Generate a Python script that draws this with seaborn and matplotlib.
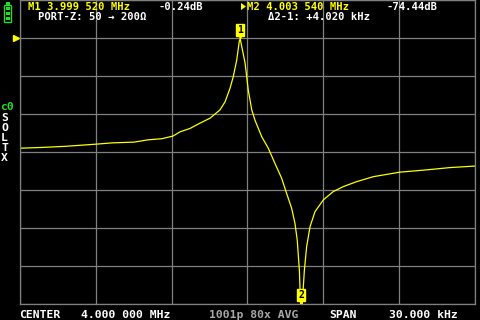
import matplotlib
matplotlib.use("Agg")
import matplotlib.pyplot as plt
import matplotlib.transforms as mtrans
from matplotlib.patches import Rectangle, Polygon
import pandas as pd
import seaborn as sns

# ── data (offset from 4.000 000 MHz centre, kHz / S21 dB) ──
offset_khz = [-15.0, -13.55, -11.97, -10.91, -9.86, -8.93, -7.48, -6.56, -5.64, -4.91,
              -4.45, -3.79, -3.13, -2.47, -1.81, -1.48, -1.15, -0.94, -0.71, -0.54,
              -0.48, -0.16, 0.05, 0.28, 0.49, 0.94, 1.37, 1.81, 2.25, 2.58,
              2.91, 3.13, 3.28, 3.42, 3.54, 3.75, 3.90, 4.12, 4.45, 5.00,
              5.66, 6.32, 7.20, 8.29, 10.05, 11.82, 13.35, 15.0]
s21_db = [-29.0, -28.8, -28.5, -28.2, -27.9, -27.6, -27.4, -26.8, -26.5, -25.8,
          -24.7, -23.8, -22.4, -21.1, -18.9, -16.8, -13.2, -10.2, -5.8, -0.8,
          -0.24, -6.6, -13.7, -18.9, -21.6, -26.0, -29.0, -33.0, -36.9, -40.9,
          -44.8, -48.8, -53.2, -61.1, -74.44, -61.1, -54.9, -49.7, -45.7, -42.6,
          -40.4, -39.1, -37.8, -36.5, -35.3, -34.7, -34.1, -33.7]

marker_names = ["1", "2"]
marker_khz = [-0.48, 3.54]
marker_db = [-0.24, -74.44]

header_left = ["M1 3.999 520 MHz", "-0.24dB", "PORT-Z: 50 \u2192 200\u03a9"]
header_right = ["M2 4.003 540 MHz", "-74.44dB", "\u03942-1: +4.020 kHz"]
footer = ["CENTER", "4.000 000 MHz", "1001p 80x AVG", "SPAN", "30.000 kHz"]
cal_labels = ["S", "O", "L", "T", "X"]

df = pd.DataFrame({"offset": offset_khz, "db": s21_db})

# ── style ──
sns.set_style("dark", {"axes.facecolor": "black", "figure.facecolor": "black"})
plt.rcParams["font.family"] = ["DejaVu Sans Mono", "DejaVu Sans"]
plt.rcParams["font.weight"] = "bold"

YEL = "#ffff00"
GRID = "#808080"
GREEN = "#22dd22"

fig = plt.figure(figsize=(4.8, 3.2), dpi=100)
fig.patch.set_facecolor("black")
ax = fig.add_axes([20 / 480, 16 / 320, 455 / 480, 304 / 320])
ax.set_facecolor("black")

sns.lineplot(data=df, x="offset", y="db", ax=ax, color=YEL, linewidth=0.9,
             estimator=None, sort=False)

ax.set_xlim(-15, 15)
ax.set_ylim(-70, 10)
ax.set_xticks(range(-15, 16, 5))
ax.set_yticks(range(-70, 11, 10))
ax.tick_params(length=0, labelbottom=False, labelleft=False)
ax.set_xlabel("")
ax.set_ylabel("")
ax.grid(True, color=GRID, linewidth=0.9)
for sp in ax.spines.values():
    sp.set_color(GRID)
    sp.set_linewidth(0.9)

# markers (drawn at clipped position)
for name, mx, my in zip(marker_names, marker_khz, marker_db):
    yp = max(my, -70)
    ax.plot([mx], [yp + 1.0], marker="v", ms=4, color=YEL, clip_on=False, zorder=5)
    ax.annotate(name, xy=(mx, yp), xytext=(0, 9), textcoords="offset pixels",
                ha="center", va="center", fontsize=7, color="black",
                fontweight="bold", annotation_clip=False, zorder=6,
                bbox=dict(boxstyle="square,pad=0.12", fc=YEL, ec=YEL))

# reference level pointer on the left
tr = mtrans.blended_transform_factory(ax.transAxes, ax.transData)
ax.plot([-0.008], [0], marker=">", ms=5, color=YEL, transform=tr, clip_on=False)


def px(x, y):
    return x / 480, 1 - y / 320


fs = 7.6
fig.text(*px(28, 10), header_left[0], color=YEL, fontsize=fs, va="baseline")
fig.text(*px(159, 10), header_left[1], color="white", fontsize=fs, va="baseline")
fig.text(*px(38, 20.5), header_left[2], color="white", fontsize=fs, va="baseline")
fig.add_artist(Polygon([px(241, 3), px(246, 6.5), px(241, 10)], closed=True,
                       transform=fig.transFigure, fc=YEL, ec="none"))
fig.text(*px(247, 10), header_right[0], color=YEL, fontsize=fs, va="baseline")
fig.text(*px(387, 10), header_right[1], color="white", fontsize=fs, va="baseline")
fig.text(*px(268, 20.5), header_right[2], color="white", fontsize=fs, va="baseline")

foot_x = [19, 81, 209, 329, 389]
foot_c = ["white", "white", "#a8a8a8", "white", "white"]
for t, x, c in zip(footer, foot_x, foot_c):
    fig.text(*px(x, 318), t, color=c, fontsize=8.2, va="baseline")

fig.text(*px(0, 109.5), "c0", color=GREEN, fontsize=8.2, va="baseline")
for i, t in enumerate(cal_labels):
    fig.text(*px(1, 120.7 + 10 * i), t, color="white", fontsize=8.2, va="baseline")

# battery icon
def rect(x, y, w, h, **kw):
    fig.add_artist(Rectangle((x / 480, 1 - (y + h) / 320), w / 480, h / 320,
                             transform=fig.transFigure, **kw))

rect(3.5, 4.5, 8, 17, fill=False, ec=GREEN, lw=1.0)
rect(5.5, 2, 4, 2.5, fc=GREEN, ec="none")
for yy in (7, 12, 17):
    rect(5.5, yy, 4, 3, fc=GREEN, ec="none")

fig.savefig("out.png", dpi=100, facecolor="black")
